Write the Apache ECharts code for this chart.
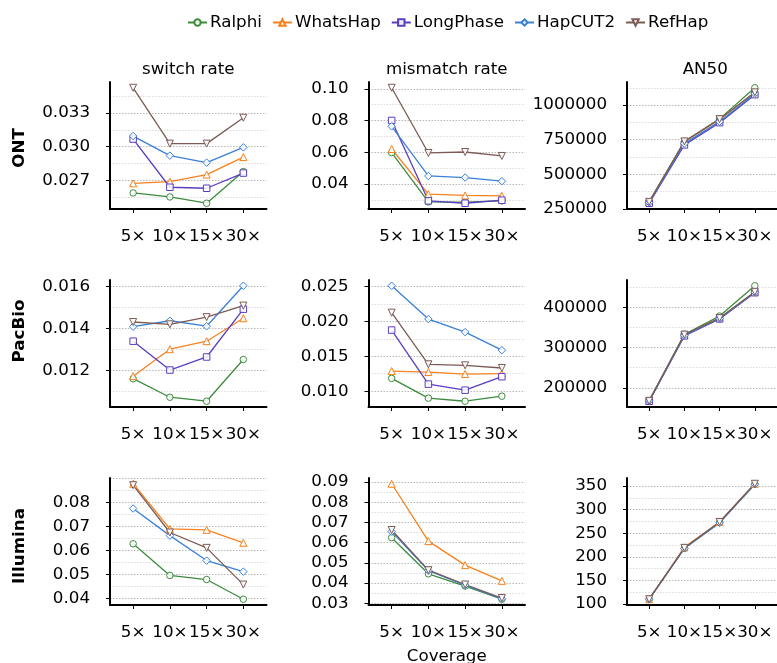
<!DOCTYPE html>
<html><head><meta charset="utf-8">
<script src="https://cdn.jsdelivr.net/npm/echarts@6/dist/echarts.min.js"></script>
<style>html,body{margin:0;padding:0;background:#fff}#c{width:777px;height:663px}</style>
</head><body><div id="c"></div><script>
const categories = ['5×', '10×', '15×', '30×'];
const methods = ['Ralphi', 'WhatsHap', 'LongPhase', 'HapCUT2', 'RefHap'];
const rowNames = ['ONT', 'PacBio', 'Illumina'];
const metricNames = ['switch rate', 'mismatch rate', 'AN50'];

// values per panel, rows in method order: Ralphi, WhatsHap, LongPhase, HapCUT2, RefHap
const ontSwitch = [
  [0.02586, 0.02550, 0.02494, 0.02777],
  [0.02672, 0.02687, 0.02750, 0.02907],
  [0.03068, 0.02637, 0.02628, 0.02764],
  [0.03095, 0.02920, 0.02857, 0.02994],
  [0.03527, 0.03027, 0.03027, 0.03259]
];
const ontMismatch = [
  [0.0598, 0.0287, 0.0286, 0.0294],
  [0.0621, 0.0336, 0.0328, 0.0325],
  [0.0801, 0.0294, 0.0279, 0.0298],
  [0.0764, 0.0451, 0.0441, 0.0418],
  [0.1007, 0.0596, 0.0602, 0.0577]
];
const ontAN50 = [
  [300000, 735000, 900000, 1125000],
  [300000, 735000, 895000, 1090000],
  [290000, 712000, 873000, 1075000],
  [295000, 722000, 880000, 1082000],
  [300000, 737000, 898000, 1092000]
];
const pacSwitch = [
  [0.01161, 0.01073, 0.01054, 0.01252],
  [0.01173, 0.01301, 0.01339, 0.01448],
  [0.01339, 0.01202, 0.01264, 0.01491],
  [0.01408, 0.01436, 0.01410, 0.01602],
  [0.01430, 0.01419, 0.01453, 0.01508]
];
const pacMismatch = [
  [0.01183, 0.00900, 0.00856, 0.00928],
  [0.01288, 0.01274, 0.01245, 0.01251],
  [0.01875, 0.01101, 0.01014, 0.01207],
  [0.02509, 0.02033, 0.01846, 0.01587],
  [0.02124, 0.01385, 0.01370, 0.01332]
];
const pacAN50 = [
  [168000, 333000, 378000, 453000],
  [168000, 331000, 373000, 437000],
  [167000, 329000, 371000, 436000],
  [168000, 330000, 372000, 437000],
  [168000, 332000, 373000, 438000]
];
const illSwitch = [
  [0.0627, 0.0495, 0.0478, 0.0396],
  [0.0877, 0.0689, 0.0685, 0.0631],
  null,
  [0.0774, 0.0661, 0.0557, 0.0511],
  [0.0871, 0.0674, 0.0610, 0.0457]
];
const illMismatch = [
  [0.0625, 0.0446, 0.0385, 0.0320],
  [0.0892, 0.0608, 0.0489, 0.0411],
  null,
  [0.0655, 0.0462, 0.0390, 0.0322],
  [0.0663, 0.0464, 0.0393, 0.0326]
];
const illAN50 = [
  [110, 218, 273, 354],
  [110, 220, 274, 355],
  null,
  [110, 218, 272, 354],
  [110, 219, 274, 355]
];

// tick labels
const ontSwitchTicks = ['0.027', '0.030', '0.033'];
const ontMismatchTicks = ['0.04', '0.06', '0.08', '0.10'];
const ontAN50Ticks = ['250000', '500000', '750000', '1000000'];
const pacSwitchTicks = ['0.012', '0.014', '0.016'];
const pacMismatchTicks = ['0.010', '0.015', '0.020', '0.025'];
const pacAN50Ticks = ['200000', '300000', '400000'];
const illSwitchTicks = ['0.04', '0.05', '0.06', '0.07', '0.08'];
const illMismatchTicks = ['0.03', '0.04', '0.05', '0.06', '0.07', '0.08', '0.09'];
const illAN50Ticks = ['100', '150', '200', '250', '300', '350'];

const panels = [
  [ontSwitch, ontSwitchTicks], [ontMismatch, ontMismatchTicks], [ontAN50, ontAN50Ticks],
  [pacSwitch, pacSwitchTicks], [pacMismatch, pacMismatchTicks], [pacAN50, pacAN50Ticks],
  [illSwitch, illSwitchTicks], [illMismatch, illMismatchTicks], [illAN50, illAN50Ticks]
];

// styles
const colors = ['#3d8b3d', '#f5821f', '#5a3dc0', '#3a80d8', '#7b5b56'];
const symbols = ['circle', 'triangle', 'rect', 'diamond', 'triangle'];
const symRot = [0, 0, 0, 0, 180];
const symSize = [6.5, 7, 6.5, 7.5, 7];
const FONT = 'DejaVu Sans';
const FS = 16.7;
const colLeft = [110, 368.5, 627];
const colW = 156.5;
const rowTop = [82, 280, 478];
const rowH = 127;

const grids = [], xAxes = [], yAxes = [], series = [];
panels.forEach((p, i) => {
  const r = Math.floor(i / 3), c = i % 3;
  const data = p[0], ticks = p[1];
  const tickVals = ticks.map(Number);
  let lo = Infinity, hi = -Infinity;
  data.forEach(a => { if (a) a.forEach(v => { lo = Math.min(lo, v); hi = Math.max(hi, v); }); });
  const pad = (hi - lo) * 0.05;
  const ymin = lo - pad, ymax = hi + pad;
  const step = tickVals[1] - tickVals[0];
  const half = step / 2;
  const gridVals = [], gridCols = [];
  const k0 = Math.ceil((ymin - tickVals[0]) / half - 1e-9);
  for (let k = k0; tickVals[0] + k * half <= ymax + 1e-12; k++) {
    const v = +(tickVals[0] + k * half).toPrecision(12);
    gridVals.push(v);
    gridCols.push(Math.abs(k % 2) === 0 ? '#b8b8b8' : '#dcdcdc');
  }
  grids.push({ left: colLeft[c], top: rowTop[r], width: colW, height: rowH });
  xAxes.push({
    gridIndex: i, type: 'value', min: -0.63, max: 3.63,
    axisLine: { onZero: false, lineStyle: { color: '#000', width: 2 } },
    axisTick: { customValues: [0, 1, 2, 3], length: 4, lineStyle: { color: '#000', width: 1 } },
    axisLabel: { customValues: [0, 1, 2, 3], formatter: v => categories[Math.round(v)], margin: 19.5,
      fontSize: FS, color: '#000', fontFamily: FONT },
    splitLine: { show: false }
  });
  yAxes.push({
    gridIndex: i, type: 'value', min: ymin, max: ymax,
    axisLine: { show: true, onZero: false, lineStyle: { color: '#000', width: 2 } },
    axisTick: { show: true, customValues: tickVals, length: 4, lineStyle: { color: '#000', width: 1 } },
    axisLabel: { customValues: tickVals, margin: 20, fontSize: FS, color: '#000', fontFamily: FONT,
      formatter: v => { let b = 0; tickVals.forEach((t, j) => { if (Math.abs(t - v) < Math.abs(tickVals[b] - v)) b = j; }); return ticks[b]; } },
    splitLine: { show: false }
  });
  yAxes.push({
    gridIndex: i, type: 'value', min: ymin, max: ymax,
    axisLine: { show: false }, axisLabel: { show: false },
    axisTick: { show: false, customValues: gridVals },
    splitLine: { show: true, lineStyle: { color: gridCols, type: [1.5, 1.5], width: 1 } }
  });
  methods.forEach((m, j) => {
    if (!data[j]) return;
    series.push({
      type: 'line', name: m, xAxisIndex: i, yAxisIndex: 2 * i,
      data: data[j].map((v, k) => [k, v]),
      symbol: symbols[j], symbolRotate: symRot[j], symbolSize: symSize[j],
      showAllSymbol: true,
      lineStyle: { color: colors[j], width: 1.3 },
      itemStyle: { color: 'rgba(255,255,255,0.85)', borderColor: colors[j], borderWidth: 1 },
      emphasis: { disabled: true }, animation: false
    });
  });
});

const graphic = [];
metricNames.forEach((t, c) => {
  graphic.push({ type: 'text', x: colLeft[c] + colW / 2, y: 70,
    style: { text: t, font: FS + 'px "' + FONT + '"', fill: '#000', align: 'center', verticalAlign: 'middle' } });
});
const rowLabelY = [148, 331, 546];
rowNames.forEach((t, r) => {
  graphic.push({ type: 'text', x: 20, y: rowLabelY[r], rotation: Math.PI / 2,
    style: { text: t, font: 'bold ' + FS + 'px "' + FONT + '"', fill: '#000', align: 'center', verticalAlign: 'middle' } });
});
graphic.push({ type: 'text', x: colLeft[1] + colW / 2, y: 657,
  style: { text: 'Coverage', font: FS + 'px "' + FONT + '"', fill: '#000', align: 'center', verticalAlign: 'middle' } });

const chart = echarts.init(document.getElementById('c'), null, { renderer: 'canvas' });
chart.setOption({
  backgroundColor: '#fff',
  animation: false,
  legend: {
    data: methods, left: 187, top: 14, padding: 0, itemGap: 10, itemWidth: 19, itemHeight: 8,
    textStyle: { fontSize: FS, color: '#000', fontFamily: FONT, padding: [0, 0, 0, -2] }
  },
  grid: grids, xAxis: xAxes, yAxis: yAxes, series: series, graphic: graphic
});
</script></body></html>
